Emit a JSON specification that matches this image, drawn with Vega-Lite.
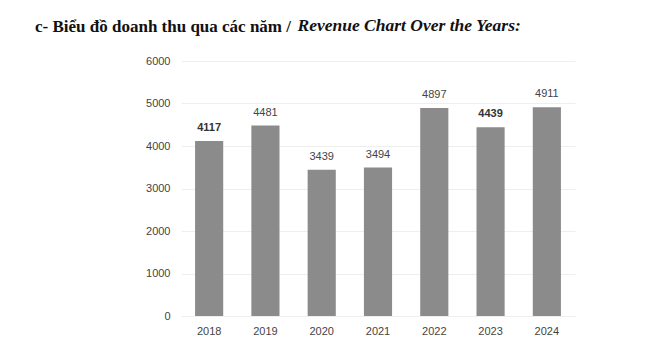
{
  "$schema": "https://vega.github.io/schema/vega-lite/v6.json",
  "autosize": {"type": "none"},
  "width": 394,
  "height": 255,
  "padding": {"left": 181, "top": 61, "right": 82, "bottom": 39},
  "background": "white",
  "title": {
    "text": "c- Biểu đồ doanh thu qua các năm /",
    "anchor": "start",
    "frame": "group",
    "baseline": "alphabetic",
    "dx": -146,
    "offset": -33,
    "font": "Liberation Serif",
    "fontSize": 17,
    "fontWeight": "bold",
    "color": "#111111"
  },
  "data": {
    "values": [
      {"year": "2018", "revenue": 4117},
      {"year": "2019", "revenue": 4481},
      {"year": "2020", "revenue": 3439},
      {"year": "2021", "revenue": 3494},
      {"year": "2022", "revenue": 4897},
      {"year": "2023", "revenue": 4439},
      {"year": "2024", "revenue": 4911}
    ]
  },
  "encoding": {
    "x": {
      "field": "year",
      "type": "nominal",
      "sort": null,
      "scale": {"paddingInner": 0.5, "paddingOuter": 0.25},
      "axis": {
        "title": null,
        "labelAngle": 0,
        "domain": false,
        "ticks": false,
        "labelPadding": 9,
        "labelFont": "Liberation Sans",
        "labelFontSize": 11,
        "labelColor": "#444444"
      }
    },
    "y": {
      "field": "revenue",
      "type": "quantitative",
      "scale": {"domain": [0, 6000], "nice": false},
      "axis": {
        "title": "Revenue Chart Over the Years:",
        "titleAngle": 0,
        "titleAlign": "left",
        "titleBaseline": "alphabetic",
        "titleX": 116,
        "titleY": -31,
        "titleFont": "Liberation Serif",
        "titleFontSize": 17.5,
        "titleFontWeight": "bold",
        "titleFontStyle": "italic",
        "titleColor": "#111111",
        "values": [0, 1000, 2000, 3000, 4000, 5000, 6000],
        "format": "d",
        "domain": false,
        "ticks": false,
        "labelPadding": 11,
        "labelFont": "Liberation Sans",
        "labelFontSize": 11,
        "labelColor": "#444444",
        "gridColor": "#eeeeee",
        "gridWidth": 1
      }
    }
  },
  "layer": [
    {"mark": {"type": "bar", "color": "#8b8b8b"}},
    {
      "transform": [{"filter": "datum.year != '2018' && datum.year != '2023'"}],
      "mark": {"type": "text", "baseline": "bottom", "dy": -8, "font": "Liberation Sans", "fontSize": 11, "color": "#444444"},
      "encoding": {"text": {"field": "revenue", "type": "quantitative", "format": "d"}}
    },
    {
      "transform": [{"filter": "datum.year == '2018' || datum.year == '2023'"}],
      "mark": {"type": "text", "baseline": "bottom", "dy": -8, "font": "Liberation Sans", "fontSize": 11, "fontWeight": "bold", "color": "#333333"},
      "encoding": {"text": {"field": "revenue", "type": "quantitative", "format": "d"}}
    }
  ],
  "config": {"view": {"stroke": null}}
}
